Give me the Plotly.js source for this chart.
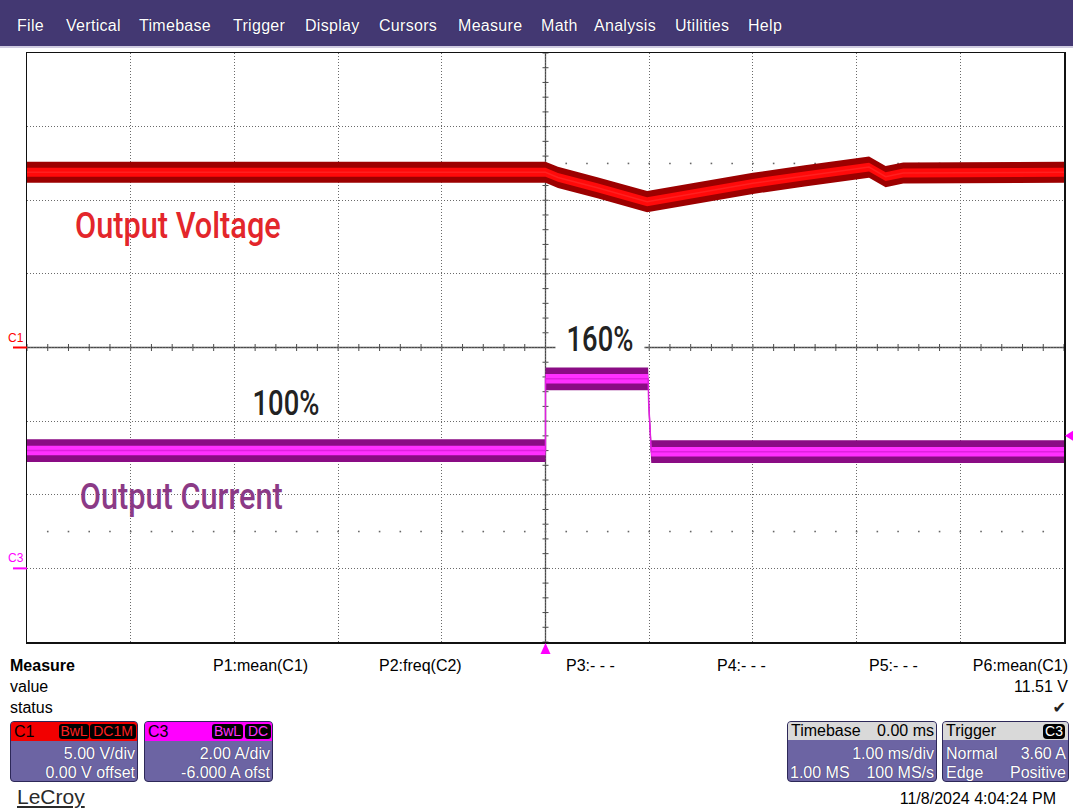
<!DOCTYPE html>
<html><head><meta charset="utf-8">
<script src="https://cdn.plot.ly/plotly-3.0.1.min.js"></script>
<style>
body{margin:0;background:#fff;width:1073px;height:810px;overflow:hidden;position:relative;font-family:'Liberation Sans',Arial,sans-serif;}
#chart{position:absolute;left:0;top:0;width:1073px;height:810px;}
.ov{position:absolute;white-space:nowrap;font-size:16px;line-height:18px;color:#000;}
#menubar{position:absolute;left:0;top:0;width:1073px;height:46px;background:#433872;border-bottom:2px solid #cfcbe0;}
.menu{position:absolute;top:16px;color:#fff;font-size:16px;line-height:20px;letter-spacing:0.3px;text-shadow:0 0 1px #1a1440;}
.panel{position:absolute;box-sizing:border-box;border:1px solid #2d2858;border-radius:4px;background:#6c64a3;overflow:hidden;height:61px;top:721px;}
.hdr{position:absolute;left:0;top:0;right:0;height:19px;}
.hl{position:absolute;top:0;font-size:16px;line-height:19px;color:#000;}
.badge{position:absolute;top:2px;height:15px;line-height:15px;font-size:14px;background:#000;border-radius:3px;text-align:center;}
.row{position:absolute;font-size:16px;line-height:18px;color:#fff;text-shadow:0 0 1px #2a2450;white-space:nowrap;}
.bigLabel{transform-box:fill-box;transform-origin:center;transform:scaleX(0.76);}
.wideLabel{transform-box:fill-box;transform-origin:center;transform:scaleX(0.83);}
</style>
</head><body>
<div id="chart"></div>
<div id="menubar">
  <span class="menu" style="left:17px">File</span>
  <span class="menu" style="left:66px">Vertical</span>
  <span class="menu" style="left:139px">Timebase</span>
  <span class="menu" style="left:233px">Trigger</span>
  <span class="menu" style="left:305px">Display</span>
  <span class="menu" style="left:379px">Cursors</span>
  <span class="menu" style="left:458px">Measure</span>
  <span class="menu" style="left:541px">Math</span>
  <span class="menu" style="left:594px">Analysis</span>
  <span class="menu" style="left:675px">Utilities</span>
  <span class="menu" style="left:748px">Help</span>
</div>

<div class="ov" style="left:10px;top:657px;font-weight:bold">Measure</div>
<div class="ov" style="left:10px;top:678px">value</div>
<div class="ov" style="left:10px;top:699px">status</div>
<div class="ov" style="left:213px;top:657px">P1:mean(C1)</div>
<div class="ov" style="left:379px;top:657px">P2:freq(C2)</div>
<div class="ov" style="left:566px;top:657px">P3:- - -</div>
<div class="ov" style="left:717px;top:657px">P4:- - -</div>
<div class="ov" style="left:869px;top:657px">P5:- - -</div>
<div class="ov" style="right:5px;top:657px">P6:mean(C1)</div>
<div class="ov" style="right:5px;top:678px">11.51 V</div>
<div class="ov" style="right:7px;top:699px;font-family:'DejaVu Sans';color:#222">&#10004;</div>

<div class="panel" style="left:10px;width:128px">
  <div class="hdr" style="background:#f20000">
    <span class="hl" style="left:3px">C1</span>
    <span class="badge" style="left:48px;width:30px;color:#ff2020">BwL</span>
    <span class="badge" style="left:79px;width:46px;color:#ff2020">DC1M</span>
  </div>
  <div class="row" style="right:2px;top:23px">5.00 V/div</div>
  <div class="row" style="right:2px;top:42px">0.00 V offset</div>
</div>
<div class="panel" style="left:144px;width:129px">
  <div class="hdr" style="background:#ff00ff">
    <span class="hl" style="left:3px">C3</span>
    <span class="badge" style="left:67px;width:31px;color:#ff30ff">BwL</span>
    <span class="badge" style="left:100px;width:26px;color:#ff30ff">DC</span>
  </div>
  <div class="row" style="right:2px;top:23px">2.00 A/div</div>
  <div class="row" style="right:2px;top:42px">-6.000 A ofst</div>
</div>
<div class="ov" style="left:17px;top:785px;font-size:21px;line-height:24px;color:#2a2a2a;text-decoration:underline">LeCroy</div>

<div class="panel" style="left:787px;width:150px">
  <div class="hdr" style="background:#d9d9d9;height:18px">
    <span class="hl" style="left:3px;line-height:18px">Timebase</span>
    <span class="hl" style="right:2px;line-height:18px">0.00 ms</span>
  </div>
  <div class="row" style="right:2px;top:23px">1.00 ms/div</div>
  <div class="row" style="left:2px;top:42px">1.00 MS</div>
  <div class="row" style="right:2px;top:42px">100 MS/s</div>
</div>
<div class="panel" style="left:942px;width:127px">
  <div class="hdr" style="background:#d9d9d9;height:18px">
    <span class="hl" style="left:3px;line-height:18px">Trigger</span>
    <span class="badge" style="right:3px;width:22px;top:2px;color:#fff;border-radius:4px">C3</span>
  </div>
  <div class="row" style="left:3px;top:23px">Normal</div>
  <div class="row" style="right:2px;top:23px">3.60 A</div>
  <div class="row" style="left:3px;top:42px">Edge</div>
  <div class="row" style="right:2px;top:42px">Positive</div>
</div>
<div class="ov" style="right:17px;top:790px">11/8/2024 4:04:24 PM</div>

<script>
// ---- data (time in ms) ----
const vTime = [-5, 0, 0.12, 0.5, 0.98, 1.5, 2.0, 2.5, 3.0, 3.12, 3.28, 3.45, 5];
const vVolt = [11.9, 11.9, 11.55, 10.85, 9.9, 10.55, 11.15, 11.65, 12.1, 12.25, 11.6, 11.85, 11.9];
const cTime = [-5, 0, 0, 0.99, 0.995, 1.02, 5];
const cAmp  = [3.2, 3.2, 5.15, 5.15, 4.5, 3.17, 3.17];
const vNoiseOuter = 0.72, vNoiseInner = 0.3;   // V, band half-width
const cNoiseOuter = 0.31, cNoiseInner = 0.13;  // A, band half-width
const voltsPerDiv = 5, voltOffset = 0;
const ampsPerDiv = 2, ampOffset = -6;
const triggerLevel = 3.6;
const labels = {volt: 'Output Voltage', curr: 'Output Current', low: '100%', high: '160%'};

const shift = (arr, d) => arr.map(v => v + d);

function band(x, y, lo, hi, color, axis) {
  return [
    {x: x, y: shift(y, -lo), yaxis: axis, mode: 'lines', line: {width: 0, color: color}, hoverinfo: 'skip', showlegend: false},
    {x: x, y: shift(y, hi), yaxis: axis, mode: 'lines', line: {width: 0, color: color}, fill: 'tonexty', fillcolor: color, hoverinfo: 'skip', showlegend: false}
  ];
}

const traces = [].concat(
  band(vTime, vVolt, vNoiseOuter, vNoiseOuter, '#9c0000', 'y'),
  band(vTime, vVolt, vNoiseInner, vNoiseInner, '#ff0a0a', 'y'),
  [{x: vTime, y: vVolt, yaxis: 'y', mode: 'lines', line: {width: 1.5, color: '#ff2020'}, hoverinfo: 'skip', showlegend: false}],
  band(cTime, cAmp, cNoiseOuter, cNoiseOuter, '#8a0c84', 'y2'),
  band(cTime, cAmp, cNoiseInner, cNoiseInner, '#ff30ff', 'y2'),
  [{x: cTime, y: cAmp, yaxis: 'y2', mode: 'lines', line: {width: 1.5, color: '#e020e0'}, hoverinfo: 'skip', showlegend: false}]
);

const vRange = [voltOffset - 4 * voltsPerDiv, voltOffset + 4 * voltsPerDiv];
const cRange = [-ampOffset - 4 * ampsPerDiv, -ampOffset + 4 * ampsPerDiv];

const shapes = [];
shapes.push({type: 'line', xref: 'x', yref: 'paper', x0: 0, x1: 0, y0: 0, y1: 1, line: {color: '#4a4a4a', width: 1.3}, layer: 'below'});
shapes.push({type: 'line', xref: 'paper', yref: 'y', x0: 0, x1: 1, y0: 0, y1: 0, line: {color: '#4a4a4a', width: 1.3}, layer: 'below'});
for (let i = -25; i <= 25; i++) {
  const t = i / 5;
  shapes.push({type: 'line', xref: 'x', yref: 'y', x0: t, x1: t, ysizemode: 'pixel', yanchor: 0, y0: -3.5, y1: 3.5, line: {color: '#4a4a4a', width: 1}, layer: 'below'});
}
for (let i = -20; i <= 20; i++) {
  const v = i * voltsPerDiv / 5;
  shapes.push({type: 'line', xref: 'x', yref: 'y', y0: v, y1: v, xsizemode: 'pixel', xanchor: 0, x0: -3, x1: 3, line: {color: '#4a4a4a', width: 1}, layer: 'below'});
}
for (const r of [2.5, -2.5]) {
  for (let i = -24; i <= 24; i++) {
    const t = i / 5;
    shapes.push({type: 'rect', xref: 'x', yref: 'y', xsizemode: 'pixel', ysizemode: 'pixel', xanchor: t, yanchor: r * voltsPerDiv,
      x0: -0.8, x1: 0.8, y0: -0.8, y1: 0.8, fillcolor: '#666', line: {width: 0}, layer: 'below'});
  }
}
shapes.push({type: 'line', xref: 'paper', yref: 'y', x0: -0.0135, x1: 0, y0: voltOffset, y1: voltOffset, line: {color: '#ff0000', width: 2}});
shapes.push({type: 'line', xref: 'paper', yref: 'y2', x0: -0.0135, x1: 0, y0: 0, y1: 0, line: {color: '#ff00ff', width: 2}});
shapes.push({type: 'path', xref: 'x', yref: 'paper', xsizemode: 'pixel', ysizemode: 'pixel', xanchor: 0, yanchor: 0,
  path: 'M-5,-12L5,-12L0,-1Z', fillcolor: '#ff00ff', line: {width: 0}});
shapes.push({type: 'path', xref: 'paper', yref: 'y2', xsizemode: 'pixel', ysizemode: 'pixel', xanchor: 1, yanchor: triggerLevel,
  path: 'M1,0L9,5L9,-5Z', fillcolor: '#ff00ff', line: {width: 0}});

const labelFont = "Roboto, 'Open Sans', sans-serif";
const annotations = [
  {text: labels.volt, xref: 'x', yref: 'y', x: -3.54, y: 8.3, showarrow: false, font: {family: labelFont, size: 37, weight: 500, color: '#e3262b'}},
  {text: labels.curr, xref: 'x', yref: 'y', x: -3.51, y: -10.1, showarrow: false, font: {family: labelFont, size: 37, weight: 500, color: '#8b3a86'}},
  {text: labels.low, xref: 'x', yref: 'y', x: -2.5, y: -3.75, showarrow: false, font: {family: labelFont, size: 36, weight: 500, color: '#222'}},
  {text: labels.high, xref: 'x', yref: 'y', x: 0.53, y: 0.55, showarrow: false, bgcolor: '#fff', borderpad: 0, font: {family: labelFont, size: 36, weight: 500, color: '#222'}},
  {text: 'C1', xref: 'paper', yref: 'y', x: 0, xanchor: 'right', xshift: -1, y: voltOffset, yshift: 10, showarrow: false, font: {family: 'Liberation Sans, Arial', size: 12, color: '#ff0000'}},
  {text: 'C3', xref: 'paper', yref: 'y2', x: 0, xanchor: 'right', xshift: -1, y: 0, yshift: 10, showarrow: false, font: {family: 'Liberation Sans, Arial', size: 12, color: '#ff00ff'}}
];

const axisCommon = {showticklabels: false, ticks: '', zeroline: false, fixedrange: true, showline: true, mirror: true, linecolor: '#111', linewidth: 1.5,
  showgrid: true, gridcolor: '#6a6a6a', gridwidth: 1, griddash: '1px,2px'};

const layout = {
  width: 1073, height: 810,
  margin: {l: 27, r: 9, t: 53, b: 168, pad: 0},
  paper_bgcolor: '#fff', plot_bgcolor: '#fff',
  showlegend: false,
  xaxis: Object.assign({}, axisCommon, {range: [-5, 5], dtick: 1, tick0: 0}),
  yaxis: Object.assign({}, axisCommon, {range: vRange, dtick: voltsPerDiv, tick0: 0}),
  yaxis2: {overlaying: 'y', range: cRange, showgrid: false, showline: false, zeroline: false, showticklabels: false, ticks: '', fixedrange: true},
  shapes: shapes,
  annotations: annotations
};

Plotly.newPlot('chart', traces, layout, {displayModeBar: false, staticPlot: true}).then(function (gd) {
  gd.querySelectorAll('text.annotation-text').forEach(function (t) {
    const s = t.textContent;
    if (s === labels.volt || s === labels.curr) t.classList.add('wideLabel');
    else if (s === labels.low || s === labels.high) t.classList.add('bigLabel');
  });
});
</script>
</body></html>
